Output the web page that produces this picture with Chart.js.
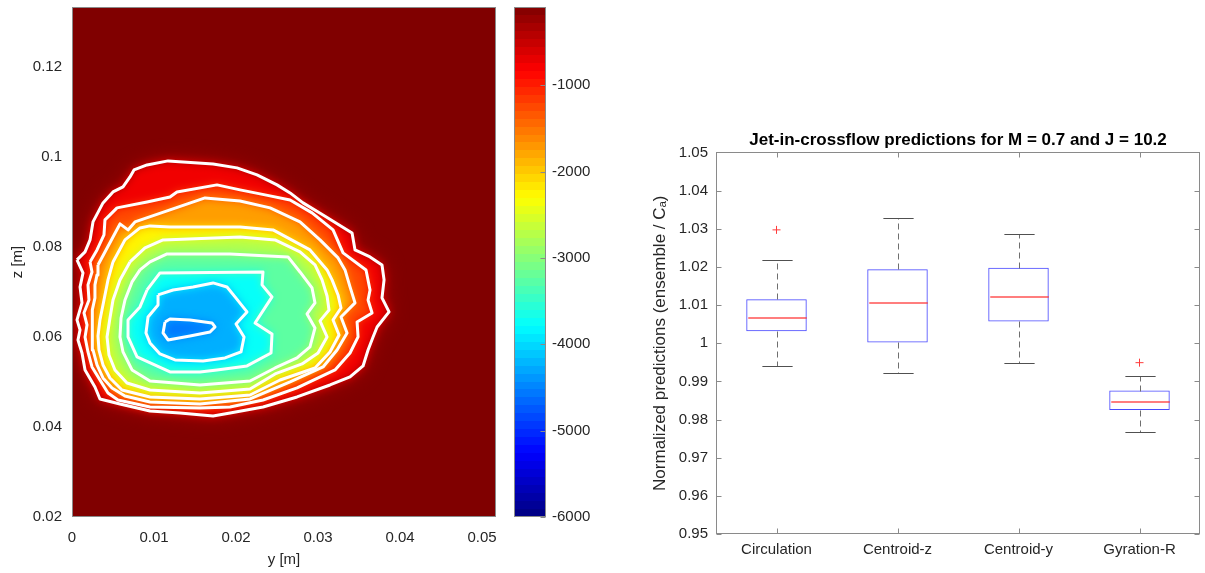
<!DOCTYPE html>
<html>
<head>
<meta charset="utf-8">
<title>Jet-in-crossflow</title>
<script src="https://cdn.jsdelivr.net/npm/chart.js@4.4.1/dist/chart.umd.min.js"></script>
<style>
  html, body { margin: 0; padding: 0; background: #fff; }
  #wrap { position: relative; width: 1205px; height: 573px; overflow: hidden; }
  canvas { position: absolute; top: 0; }
  #contour { left: 0; }
  #cbar { left: 505px; }
  #boxes { left: 600px; }
</style>
</head>
<body>
<div id="wrap">
  <canvas id="contour" width="505" height="573"></canvas>
  <canvas id="cbar" width="95" height="573"></canvas>
  <canvas id="boxes" width="605" height="573"></canvas>
</div>
<script>
// contour lines, [y, z] in mm (outermost first)
const contourLevels = [-500, -1000, -1500, -2000, -2500, -3000, -3500, -4000, -4500];
const line500 = [[0.61,77.11],[1.59,78.89],[2.20,81.56],[2.56,85.56],[3.78,89.78],[5.00,92.22],[6.22,93.33],[7.07,95.56],[7.56,97.11],[9.15,98.22],[11.71,99.11],[17.20,98.44],[20.12,97.56],[22.56,96.00],[25.00,93.78],[26.59,92.00],[28.17,89.78],[30.61,87.11],[34.15,83.11],[34.51,79.33],[36.34,77.78],[37.80,76.00],[38.05,72.67],[37.80,68.67],[38.66,65.56],[37.20,62.22],[36.71,60.00],[36.10,57.11],[35.49,53.56],[33.90,51.11],[31.46,49.33],[27.44,46.67],[23.29,44.44],[19.27,43.11],[17.20,42.44],[13.17,43.11],[9.51,43.56],[5.85,45.11],[3.41,46.22],[2.80,48.89],[1.59,52.67],[1.22,56.44],[0.73,59.33],[0.98,61.56],[0.61,63.78],[1.22,67.56],[0.98,71.11],[1.34,74.22]];
const line1000 = [[2.20,76.67],[3.05,79.33],[3.90,82.67],[4.02,86.00],[5.49,88.67],[9.15,90.00],[11.95,91.11],[12.80,92.22],[17.68,93.78],[20.49,92.67],[23.54,91.56],[26.59,90.44],[29.27,87.56],[31.83,83.78],[33.05,78.67],[35.85,74.89],[36.34,70.44],[36.10,68.22],[36.59,65.33],[34.76,63.33],[34.88,60.00],[33.90,56.44],[32.07,52.67],[27.44,48.67],[23.29,46.00],[19.27,44.44],[15.61,44.22],[9.51,44.44],[5.61,46.00],[4.39,47.56],[3.41,50.44],[2.44,53.33],[1.95,56.67],[1.59,60.00],[1.83,62.67],[1.46,65.33],[2.07,68.22],[1.95,71.56],[2.44,74.44]];
const line1500 = [[3.17,76.00],[4.15,79.33],[5.00,82.22],[5.85,85.11],[6.83,83.78],[7.68,85.56],[11.95,88.22],[16.22,90.89],[20.49,90.22],[24.15,88.67],[27.80,85.56],[30.24,81.56],[32.44,77.56],[33.29,74.89],[33.90,71.11],[34.51,67.56],[32.80,64.44],[33.54,60.89],[32.32,57.11],[30.61,53.33],[26.59,50.00],[21.71,46.22],[15.61,45.11],[9.51,45.56],[6.46,46.89],[4.88,48.67],[3.78,50.89],[3.05,53.78],[2.56,57.11],[2.44,60.22],[2.56,63.11],[2.44,66.00],[2.80,68.67],[2.80,71.56],[3.05,73.78]];
const line2000 = [[5.00,76.67],[6.46,81.56],[8.29,84.22],[9.51,84.67],[11.95,84.44],[20.49,84.44],[24.51,83.78],[29.02,79.33],[31.10,74.89],[31.71,72.67],[32.44,69.33],[32.80,66.44],[31.83,63.78],[32.56,60.44],[31.46,56.67],[29.63,53.11],[25.37,50.44],[21.71,47.11],[15.61,46.22],[9.51,46.67],[6.10,48.22],[4.63,50.89],[3.78,53.78],[3.29,57.11],[3.17,60.22],[3.41,63.78],[3.90,68.22],[4.39,72.67]];
const line2500 = [[7.07,76.67],[8.90,79.78],[11.10,81.56],[20.49,82.22],[24.76,81.56],[27.80,78.89],[29.63,76.00],[30.49,72.67],[31.10,69.11],[31.34,66.00],[30.24,63.56],[31.10,60.00],[30.00,56.44],[28.05,54.00],[24.76,51.78],[21.71,48.44],[15.61,47.56],[9.51,48.22],[6.71,49.78],[5.24,52.67],[4.51,56.00],[4.27,60.00],[4.63,64.22],[5.00,68.22],[5.85,72.67]];
const line3000 = [[8.29,74.89],[9.51,76.67],[11.59,78.44],[19.27,78.44],[26.34,77.78],[27.80,74.44],[29.27,70.89],[29.63,67.56],[28.66,65.11],[29.63,62.00],[29.02,57.78],[27.44,55.33],[24.76,53.11],[21.71,50.22],[15.61,49.33],[9.51,50.22],[7.32,52.67],[6.22,56.67],[5.85,60.00],[5.98,64.22],[6.46,68.22],[7.32,72.22]];
const line3500 = [[9.15,70.44],[10.73,74.22],[23.29,74.44],[23.17,71.56],[24.39,68.89],[22.32,63.11],[24.39,60.67],[24.27,56.44],[21.34,53.56],[17.68,52.67],[15.61,52.22],[11.95,52.22],[7.93,55.56],[6.83,60.00],[6.83,63.78],[8.29,66.67]];
const line4000 = [[10.49,69.33],[12.32,70.44],[14.76,71.11],[17.20,72.00],[18.90,71.11],[19.88,68.89],[21.34,65.56],[20.00,62.89],[20.98,60.00],[20.61,56.67],[18.66,55.33],[15.98,54.67],[12.56,54.89],[10.73,56.22],[9.51,58.67],[9.02,60.89],[9.27,64.44],[10.49,67.11]];
const line4500 = [[11.34,63.33],[11.95,64.00],[14.39,63.78],[17.07,63.11],[17.44,62.22],[16.83,61.11],[14.39,60.22],[11.71,59.33],[11.10,60.89]];
const contours = [line500, line1000, line1500, line2000, line2500, line3000, line3500, line4000, line4500];
const fieldMin = -4620;          // deepest value at the core
const cMin = -6000, cMax = -95;  // colour axis limits
const xTicks = [0, 0.01, 0.02, 0.03, 0.04, 0.05];
const zTicks = [0.02, 0.04, 0.06, 0.08, 0.1, 0.12];
const cbarTicks = [-6000, -5000, -4000, -3000, -2000, -1000];

// box plot
const boxLabels = ['Circulation', 'Centroid-z', 'Centroid-y', 'Gyration-R'];
const q1 = [1.0031, 1.0002, 1.0057, 0.9825];
const medians = [1.0067, 1.0106, 1.0120, 0.9847];
const q3 = [1.0115, 1.0194, 1.0198, 0.9876];
const whiskLow = [0.9939, 0.9922, 0.9949, 0.9767];
const whiskHigh = [1.0219, 1.0329, 1.0287, 0.9915];
const outliers = [1.0297, null, null, 0.9949];
const boxTicks = [0.95, 0.96, 0.97, 0.98, 0.99, 1, 1.01, 1.02, 1.03, 1.04, 1.05];

Chart.defaults.font.family = "'Liberation Sans', Arial, Helvetica, sans-serif";
Chart.defaults.font.size = 15;
Chart.defaults.color = '#262626';

function jet(v) {
  const t = Math.min(1, Math.max(0, (v - cMin) / (cMax - cMin)));
  const f = c => Math.round(255 * Math.min(1, Math.max(0, 1.5 - Math.abs(4 * t - c))));
  return 'rgb(' + f(3) + ',' + f(2) + ',' + f(1) + ')';
}

// fixed axis sizes, no extra room for the end labels
const fixSize = (w, h) => s => {
  if (w != null) s.width = w;
  if (h != null) s.height = h;
  s.paddingTop = s.paddingBottom = s.paddingLeft = s.paddingRight = 0;
};

// filled bands under the white contour lines
const contourFill = {
  id: 'contourFill',
  beforeDatasetsDraw(chart) {
    const { ctx, chartArea: a, scales: { x, y } } = chart;
    const trace = pts => {
      ctx.beginPath();
      pts.forEach(([py, pz], i) => {
        const px = x.getPixelForValue(py / 1000), pv = y.getPixelForValue(pz / 1000);
        if (i) ctx.lineTo(px, pv); else ctx.moveTo(px, pv);
      });
      ctx.closePath();
    };
    ctx.save();
    ctx.beginPath();
    ctx.rect(a.left, a.top, a.width, a.height);
    ctx.clip();
    ctx.fillStyle = jet(cMax);
    ctx.fillRect(a.left - 30, a.top - 30, a.width + 60, a.height + 60);
    // soft halo outside the outermost level
    ctx.filter = 'blur(10px)';
    trace(contours[0]);
    ctx.fillStyle = jet((cMax + contourLevels[0]) / 2 - 100);
    ctx.fill();
    ctx.filter = 'blur(5px)';
    contours.forEach((pts, k) => {
      const inner = k + 1 < contourLevels.length ? contourLevels[k + 1] : fieldMin;
      trace(pts);
      ctx.fillStyle = jet((contourLevels[k] + inner) / 2);
      ctx.fill();
    });
    ctx.restore();
  }
};

// matlab style box with inward ticks
const frame = {
  id: 'frame',
  afterDraw(chart, args, opts) {
    const { ctx, chartArea: a, scales } = chart;
    const L = Math.round(a.left) + 0.5, R = Math.round(a.right) - 0.5;
    const T = Math.round(a.top) + 0.5, B = Math.round(a.bottom) - 0.5;
    const n = opts.len || 0;
    ctx.save();
    ctx.strokeStyle = opts.color || '#808080';
    ctx.lineWidth = 1;
    ctx.beginPath();
    (opts.ySides || []).forEach(side => {
      const s = scales.y;
      s.ticks.forEach((t, i) => {
        const p = Math.round(s.getPixelForTick(i)) + 0.5;
        if (side === 'left') { ctx.moveTo(L, p); ctx.lineTo(L + n, p); }
        else { ctx.moveTo(R, p); ctx.lineTo(R - n, p); }
      });
    });
    (opts.xSides || []).forEach(side => {
      const s = scales.x;
      s.ticks.forEach((t, i) => {
        const p = Math.round(s.getPixelForTick(i)) + 0.5;
        if (side === 'top') { ctx.moveTo(p, T); ctx.lineTo(p, T + n); }
        else { ctx.moveTo(p, B); ctx.lineTo(p, B - n); }
      });
    });
    ctx.stroke();
    ctx.strokeRect(L, T, R - L, B - T);
    ctx.restore();
  }
};

// whiskers, caps and medians
const boxParts = {
  id: 'boxParts',
  afterDatasetsDraw(chart) {
    const { ctx, scales: { x, y } } = chart;
    const bars = chart.getDatasetMeta(0).data;
    const line = (x1, y1, x2, y2, color, width, dash) => {
      ctx.strokeStyle = color;
      ctx.lineWidth = width;
      ctx.setLineDash(dash || []);
      ctx.beginPath(); ctx.moveTo(x1, y1); ctx.lineTo(x2, y2); ctx.stroke();
    };
    ctx.save();
    boxLabels.forEach((lab, i) => {
      const cx = Math.round(x.getPixelForValue(i)) + 0.5;
      const half = bars[i].width / 2;
      const cap = half / 2;
      const py = v => Math.round(y.getPixelForValue(v)) + 0.5;
      line(cx, py(q3[i]), cx, py(whiskHigh[i]), '#6e6e6e', 1, [6, 4]);
      line(cx, py(q1[i]), cx, py(whiskLow[i]), '#6e6e6e', 1, [6, 4]);
      line(cx - cap, py(whiskHigh[i]), cx + cap, py(whiskHigh[i]), '#505050', 1);
      line(cx - cap, py(whiskLow[i]), cx + cap, py(whiskLow[i]), '#505050', 1);
      const my = Math.round(y.getPixelForValue(medians[i]));
      line(cx - half + 1, my, cx + half - 1, my, 'rgba(255,40,40,0.8)', 1.6);
    });
    ctx.restore();
  }
};

function cbarGradient(chart) {
  if (!chart.chartArea) return jet(cMin);
  const y = chart.scales.y;
  const g = chart.ctx.createLinearGradient(0, y.getPixelForValue(cMin), 0, y.getPixelForValue(cMax));
  const n = 64;
  for (let i = 0; i < n; i++) {
    const c = jet(cMin + (i + 0.5) / n * (cMax - cMin));
    g.addColorStop(i / n, c);
    g.addColorStop((i + 1) / n, c);
  }
  return g;
}

const noGrid = { display: false, drawTicks: false };
const fmt = v => String(Number(Number(v).toFixed(4)));

new Chart(document.getElementById('contour'), {
  type: 'scatter',
  data: {
    datasets: contours.map(pts => ({
      data: pts.concat([pts[0]]).map(([py, pz]) => ({ x: py / 1000, y: pz / 1000 })),
      showLine: true,
      borderColor: '#ffffff',
      borderWidth: 3,
      borderJoinStyle: 'round',
      pointRadius: 0,
      fill: false
    }))
  },
  options: {
    responsive: false, animation: false, devicePixelRatio: 1,
    layout: { padding: { top: 7, right: 9 } },
    plugins: { legend: { display: false }, tooltip: { enabled: false }, frame: { color: '#8a8a8a', len: 0 } },
    scales: {
      x: {
        type: 'linear', min: 0, max: 0.0517,
        afterBuildTicks: s => { s.ticks = xTicks.map(v => ({ value: v })); },
        afterFit: fixSize(null, 56),
        grid: noGrid, border: { display: false },
        ticks: { padding: 12, callback: fmt, maxRotation: 0 },
        title: { display: true, text: 'y [m]', padding: { top: 0, bottom: 4 } }
      },
      y: {
        type: 'linear', min: 0.02, max: 0.1333,
        afterBuildTicks: s => { s.ticks = zTicks.map(v => ({ value: v })); },
        afterFit: fixSize(72, null),
        grid: noGrid, border: { display: false },
        ticks: { padding: 10, callback: fmt },
        title: { display: true, text: 'z [m]', padding: { top: 9, bottom: 0 } }
      }
    }
  },
  plugins: [contourFill, frame]
});

new Chart(document.getElementById('cbar'), {
  type: 'bar',
  data: {
    labels: [''],
    datasets: [{ data: [[cMin, cMax]], backgroundColor: c => cbarGradient(c.chart), borderWidth: 0, barPercentage: 1, categoryPercentage: 1 }]
  },
  options: {
    responsive: false, animation: false, devicePixelRatio: 1,
    layout: { padding: { left: 9, top: 7, bottom: 56 } },
    plugins: { legend: { display: false }, tooltip: { enabled: false }, frame: { color: '#8a8a8a', len: 5, ySides: ['right'] } },
    scales: {
      x: { display: false },
      y: {
        position: 'right', min: cMin, max: cMax,
        afterBuildTicks: s => { s.ticks = cbarTicks.map(v => ({ value: v })); },
        afterFit: fixSize(54, null),
        grid: noGrid, border: { display: false },
        ticks: { padding: 6, callback: v => String(v) }
      }
    }
  },
  plugins: [frame]
});

new Chart(document.getElementById('boxes'), {
  type: 'bar',
  data: {
    labels: boxLabels,
    datasets: [
      {
        type: 'bar',
        data: boxLabels.map((_, i) => [q1[i], q3[i]]),
        backgroundColor: 'rgba(0,0,0,0)',
        borderColor: '#4a4aff',
        borderWidth: 1,
        borderSkipped: false,
        barPercentage: 0.5,
        categoryPercentage: 1
      },
      {
        type: 'line',
        data: outliers,
        showLine: false,
        pointStyle: 'cross',
        pointRadius: 4,
        pointBorderColor: '#ff3b3b',
        pointBorderWidth: 1
      }
    ]
  },
  options: {
    responsive: false, animation: false, devicePixelRatio: 1,
    layout: { padding: { right: 5 } },
    plugins: {
      legend: { display: false }, tooltip: { enabled: false },
      title: {
        display: true, fullSize: false, text: 'Jet-in-crossflow predictions for M = 0.7 and J = 10.2',
        color: '#000', font: { size: 17, weight: 'bold' }, padding: { top: 130, bottom: 2 }
      },
      frame: { color: '#8a8a8a', len: 5, ySides: ['left', 'right'], xSides: ['top', 'bottom'] }
    },
    scales: {
      x: {
        afterFit: fixSize(null, 39),
        grid: noGrid, border: { display: false },
        ticks: { padding: 7, maxRotation: 0 }
      },
      y: {
        min: 0.95, max: 1.05,
        afterBuildTicks: s => { s.ticks = boxTicks.map(v => ({ value: v })); },
        afterFit: fixSize(116, null),
        grid: noGrid, border: { display: false },
        ticks: { padding: 8, callback: v => String(Number(Number(v).toFixed(2))) },
        title: { display: true, text: 'Normalized predictions (ensemble / Cₐ)', font: { size: 17 }, padding: { top: 50, bottom: 0 } }
      }
    }
  },
  plugins: [boxParts, frame]
});
</script>
</body>
</html>
